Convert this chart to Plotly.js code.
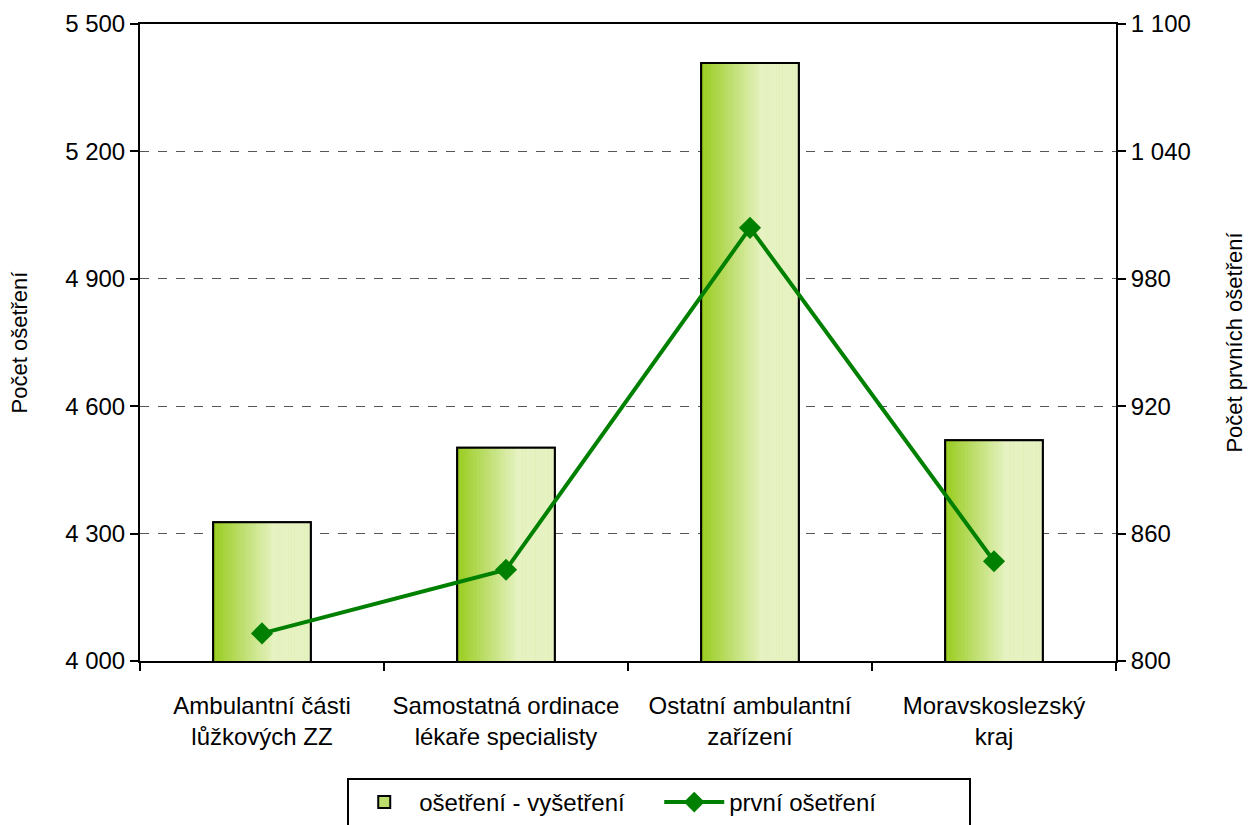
<!DOCTYPE html>
<html>
<head>
<meta charset="utf-8">
<script src="https://cdn.plot.ly/plotly-3.0.1.min.js"></script>
<style>html,body{margin:0;padding:0;background:#fff;}#chart{width:1251px;height:825px;}</style>
</head>
<body>
<div id="chart"></div>
<script>
const categories = ['Ambulantní části<br>lůžkových ZZ', 'Samostatná ordinace<br>lékaře specialisty', 'Ostatní ambulantní<br>zařízení', 'Moravskoslezský<br>kraj'];
const osetreniVysetreni = [4327, 4502, 5408, 4520];
const prvniOsetreni = [813, 843, 1004, 847];
const seriesNames = ['ošetření - vyšetření', 'první ošetření'];
const leftTitle = 'Počet ošetření';
const rightTitle = 'Počet prvních ošetření';

const FONT = '"Liberation Sans Narrow", "Arial Narrow", "Liberation Sans", Arial, sans-serif';
const BAR_W = 0.4;
const N = 30;
const c0 = [152, 204, 30], c1 = [230, 242, 194];
function mix(t){ t = Math.min(1, t/0.62); return 'rgb(' + c0.map((v,i)=>Math.round(v + (c1[i]-v)*t)).join(',') + ')'; }

const traces = [];
traces.push({type:'bar', x:categories, y:osetreniVysetreni, name:seriesNames[0], width:BAR_W,
  marker:{color:'#bcdc6c', line:{color:'#000', width:2}}, showlegend:true, hoverinfo:'skip'});
for (let i=0;i<N;i++){
  const w = BAR_W/N;
  traces.push({type:'bar', x:categories, y:osetreniVysetreni, width:w*1.1, offset:-BAR_W/2 + i*w,
    marker:{color:mix((i+0.5)/N), line:{width:0}}, showlegend:false, hoverinfo:'skip'});
}
traces.push({type:'bar', x:categories, y:osetreniVysetreni, width:BAR_W, showlegend:false,
  marker:{color:'rgba(0,0,0,0)', line:{color:'#000', width:2}}, hoverinfo:'skip'});
traces.push({type:'scatter', mode:'lines+markers', x:categories, y:prvniOsetreni, yaxis:'y2', name:seriesNames[1],
  line:{color:'#008000', width:4}, marker:{symbol:'diamond', size:17, color:'#008000'}});

const layout = {
  width:1251, height:825,
  margin:{l:140, r:135, t:24, b:164, autoexpand:false},
  paper_bgcolor:'#fff', plot_bgcolor:'#fff',
  barmode:'overlay',
  separators:', ',
  font:{family:FONT, size:24, color:'#000'},
  xaxis:{type:'category', tickson:'boundaries', ticks:'outside', ticklen:8, tickwidth:2, tickcolor:'#000',
    showline:true, linecolor:'#000', linewidth:2, mirror:true, showgrid:false, tickfont:{size:24, family:FONT},
    ticklabelstandoff:22, automargin:false, range:[-0.5, 3.5]},
  yaxis:{range:[4000,5500], dtick:300, tick0:4000, ticks:'outside', ticklen:8, tickwidth:2, tickcolor:'#000',
    showline:true, linecolor:'#000', linewidth:2, separatethousands:true, automargin:false,
    showgrid:true, gridcolor:'#555', griddash:'dash', gridwidth:1, zeroline:false,
    title:{text:leftTitle, font:{size:22, family:FONT}, standoff:31}, tickfont:{size:24, family:FONT}},
  yaxis2:{range:[800,1100], dtick:60, tick0:800, overlaying:'y', side:'right', ticks:'outside', ticklen:8,
    tickwidth:2, tickcolor:'#000', showline:true, linecolor:'#000', linewidth:2, showgrid:false, zeroline:false,
    separatethousands:true, automargin:false, title:{text:rightTitle, font:{size:22, family:FONT}, standoff:37}, tickfont:{size:24, family:FONT}},
  legend:{orientation:'h', x:0.532, xanchor:'center', y:-0.1837, yanchor:'top', bordercolor:'#000', borderwidth:2,
    font:{size:24, family:FONT}, itemwidth:60, entrywidth:235, bgcolor:'#fff'},
  showlegend:true
};
Plotly.newPlot('chart', traces, layout, {displayModeBar:false, staticPlot:true});
</script>
</body>
</html>
